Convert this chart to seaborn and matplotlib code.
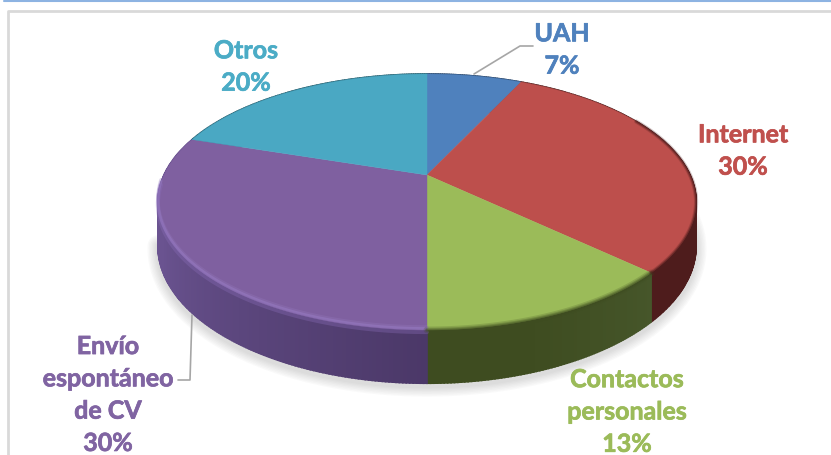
import numpy as np
import matplotlib
matplotlib.use('Agg')
import matplotlib.pyplot as plt
import matplotlib.colors as mc
import matplotlib.patheffects as pe
import seaborn as sns

# chart data, clockwise from 12 o'clock
categories = ['UAH', 'Internet', 'Contactos\npersonales', 'Envío\nespontáneo\nde CV', 'Otros']
shares = [7, 30, 13, 30, 20]
slice_hex = ['#4f81bd', '#bd4f4c', '#9bbb59', '#7f60a0', '#4aa8c3']
text_hex = ['#4f81bd', '#c0504d', '#9bbb59', '#8064a2', '#4bacc6']
side_start = ['#2f4d72', '#5c2a28', '#46562a', '#4b3868', '#2c6575']
side_end = ['#2f4d72', '#4e1c1c', '#3e4c20', '#6a5390', '#2c6575']

# label centres (px)
label_x = [562, 743, 627, 108, 246]
label_y = [50, 151, 412, 395, 67]

sns.set_theme(style='white')
plt.rcParams['font.family'] = ['Lato', 'DejaVu Sans']
palette = sns.color_palette(slice_hex)

fig = plt.figure(figsize=(8.31, 4.55), dpi=100)
ax = fig.add_axes([0, 0, 1, 1])
ax.set_xlim(0, 831)
ax.set_ylim(455, 0)
ax.axis('off')

# perspective of a disc seen from above
cx, cy = 427, 175
bx, ay, tilt, depth = 263, 122.3, 0.211, 42


def rim(frac, drop=0.0):
    ang = 2 * np.pi * np.asarray(frac)
    u, v = np.sin(ang), -np.cos(ang)
    d = 1 - tilt * v
    return cx + bx * u / d, cy + (ay * v + drop) / d


edges = np.cumsum([0] + shares) / sum(shares)

# frame behind the chart
ax.plot([8, 8, 831], [455, 11, 11], color='#d9d9d9', lw=2, zorder=1)
ax.plot([4, 831], [0.5, 0.5], color='#8db3e2', lw=1.5, zorder=1)

# soft shadow under the disc
f = np.linspace(0.23, 0.72, 200)
sx, sy = rim(f, depth)
for lw in np.arange(15, 1, -2):
    ax.plot(sx, sy + 3, color='#707070', lw=lw, alpha=0.035, zorder=2)

# side wall, strip by strip
for i in range(len(shares)):
    fr = np.linspace(edges[i], edges[i + 1], int(shares[i] * 6) + 2)
    c0, c1 = np.array(mc.to_rgb(side_start[i])), np.array(mc.to_rgb(side_end[i]))
    for a, b in zip(fr[:-1], fr[1:]):
        t = (a - edges[i]) / (edges[i + 1] - edges[i])
        col = c0 + (c1 - c0) * min(t * 1.6, 1)
        xa, ya = rim(a)
        xb, yb = rim(b)
        xc, yc = rim(b, depth)
        xd, yd = rim(a, depth)
        ax.fill([xa, xb, xc, xd], [ya, yb, yc, yd], color=col, lw=1.2, zorder=3)

# top face
for i in range(len(shares)):
    fr = np.linspace(edges[i], edges[i + 1], 120)
    xs, ys = rim(fr)
    ax.fill(np.r_[cx, xs], np.r_[cy, ys], color=palette[i], lw=0.3, zorder=4)

# bevel on the rim
fr = np.linspace(0.5, 0.74, 120)
xs, ys = rim(fr, 0)
ax.plot(xs, ys - 3, color='#9478bd', lw=2.5, alpha=0.3, zorder=5)
ax.plot(xs, ys - 1.5, color='#9a7fc8', lw=2, alpha=0.45, zorder=5)
ax.plot(xs, ys + 2, color='#8a6db8', lw=3, alpha=0.35, zorder=5)
fr = np.linspace(edges[2], edges[3], 80)
xs, ys = rim(fr, 0)
for lw, al in [(5, 0.2), (3, 0.3), (1.5, 0.4)]:
    ax.plot(xs, ys, color='#3e4c20', lw=lw, alpha=al, zorder=5)
fr = np.linspace(0.17, edges[2], 80)
xs, ys = rim(fr, 0)
for lw, al in [(3, 0.25), (1.5, 0.5)]:
    ax.plot(xs, ys, color='#4e1c1c', lw=lw, alpha=al, zorder=5)

# leader lines
ax.plot([474, 520, 533], [74, 46, 46], color='#a6a6a6', lw=1.2, zorder=6)
ax.plot([192, 190, 178], [315, 380, 380], color='#a6a6a6', lw=1.2, zorder=6)

# labels
for name, val, x, y, col in zip(categories, shares, label_x, label_y, text_hex):
    ax.text(x, y, f'{name}\n{val}%', color=col, fontsize=18, fontweight='bold',
            ha='center', va='center', linespacing=1.49, zorder=7,
            path_effects=[pe.withStroke(linewidth=0.5, foreground=col)])

fig.savefig('out.png', dpi=100)
